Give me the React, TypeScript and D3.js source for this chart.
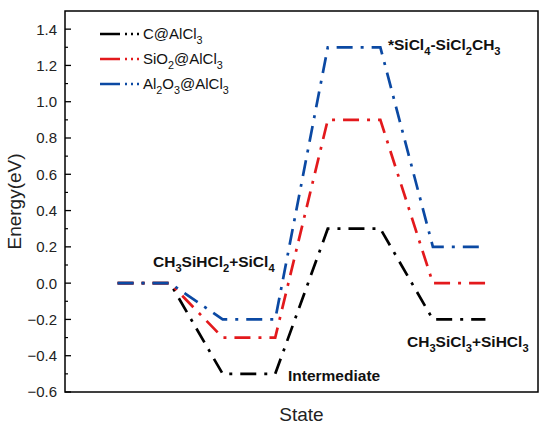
import React from 'react';
import * as d3 from 'd3';

// energies per state (eV)
const seriesNames = ['C@AlCl_3', 'SiO_2@AlCl_3', 'Al_2O_3@AlCl_3'];
const seriesColors = ['#000000', '#e3191c', '#0b49a3'];
const cEnergy = [0, -0.5, 0.3, -0.2];
const sio2Energy = [0, -0.3, 0.9, 0.0];
const al2o3Energy = [0, -0.2, 1.3, 0.2];
const yTicks = [-0.6, -0.4, -0.2, 0.0, 0.2, 0.4, 0.6, 0.8, 1.0, 1.2, 1.4];
const stateLabels = [
    { text: 'CH_3SiHCl_2+SiCl_4', state: 0, x0: 153, y0: 267 },
    { text: 'Intermediate', state: 1, x0: 288, y0: 381 },
    { text: '*SiCl_4-SiCl_2CH_3', state: 2, x0: 388, y0: 50 },
    { text: 'CH_3SiCl_3+SiHCl_3', state: 3, x0: 407, y0: 347 },
];

const W = 550;
const H = 430;
const margin = { top: 11, right: 12, bottom: 38, left: 65 };

// renders a formula with _n subscripts
const chem = (s: string, fs: number) => {
    const parts = s.split(/_(\d)/);
    return parts.map((p, i) =>
        i % 2 ? (
            <tspan key={i} dy={fs * 0.3} fontSize={fs * 0.72}>
                {p}
            </tspan>
        ) : (
            <tspan key={i} dy={i > 0 ? -fs * 0.3 : 0}>
                {p}
            </tspan>
        )
    );
};

export default function App() {
    const x = d3.scaleLinear().domain([-1, 8]).range([margin.left, W - margin.right]);
    const y = d3.scaleLinear().domain([-0.6, 1.5]).range([H - margin.bottom, margin.top]);

    const allSeries = [cEnergy, sio2Energy, al2o3Energy];
    const line = d3
        .line<[number, number]>()
        .x((d) => x(d[0]))
        .y((d) => y(d[1]));

    // each state is a plateau from 2i to 2i+1
    const toPoints = (vals: number[]) =>
        vals.flatMap((v, i) => [
            [2 * i, v] as [number, number],
            [2 * i + 1, v] as [number, number],
        ]);

    const fmt = d3.format('.1f');
    const minor = d3.range(-0.5, 1.5, 0.2);
    const font = 'Arial, "Liberation Sans", sans-serif';
    const dash = '16,8,3,8';

    return (
        <svg
            width={W}
            height={H}
            style={{ position: 'absolute', left: 0, top: 0, background: '#fff' }}
            fontFamily={font}
        >
            <rect x={0} y={0} width={W} height={H} fill="#fff" />

            {/* series */}
            {allSeries.map((vals, k) => (
                <path
                    key={k}
                    d={line(toPoints(vals)) || ''}
                    fill="none"
                    stroke={seriesColors[k]}
                    strokeWidth={2.7}
                    strokeDasharray={dash}
                />
            ))}

            {/* frame */}
            <rect
                x={margin.left}
                y={margin.top}
                width={W - margin.left - margin.right}
                height={H - margin.top - margin.bottom}
                fill="none"
                stroke="#000"
                strokeWidth={1.5}
            />

            {/* y ticks */}
            {yTicks.map((t) => (
                <g key={t}>
                    <line x1={margin.left} x2={margin.left + 6} y1={y(t)} y2={y(t)} stroke="#000" strokeWidth={1.3} />
                    <text x={margin.left - 8} y={y(t)} dy="0.36em" textAnchor="end" fontSize={15} fill="#222">
                        {fmt(t)}
                    </text>
                </g>
            ))}
            {minor.map((t) => (
                <line key={t} x1={margin.left} x2={margin.left + 3} y1={y(t)} y2={y(t)} stroke="#000" strokeWidth={1.2} />
            ))}

            {/* axis titles */}
            <text
                transform={`translate(21, ${(margin.top + H - margin.bottom) / 2}) rotate(-90)`}
                textAnchor="middle"
                fontSize={19}
                fill="#222"
            >
                Energy(eV)
            </text>
            <text x={(margin.left + W - margin.right) / 2} y={421} textAnchor="middle" fontSize={19} fill="#222">
                State
            </text>

            {/* state labels */}
            {stateLabels.map((l) => (
                <text key={l.state} x={l.x0} y={l.y0} fontSize={15.5} fontWeight="bold" fill="#111">
                    {chem(l.text, 15.5)}
                </text>
            ))}

            {/* legend */}
            {seriesNames.map((name, i) => {
                const ly = 34 + i * 25;
                return (
                    <g key={name}>
                        <line
                            x1={100}
                            x2={140}
                            y1={ly}
                            y2={ly}
                            stroke={seriesColors[i]}
                            strokeWidth={2.6}
                            strokeDasharray="20,5,2,4,2,4,2"
                        />
                        <text x={143} y={ly + 5} fontSize={15} fill="#111">
                            {chem(name, 15)}
                        </text>
                    </g>
                );
            })}
        </svg>
    );
}
